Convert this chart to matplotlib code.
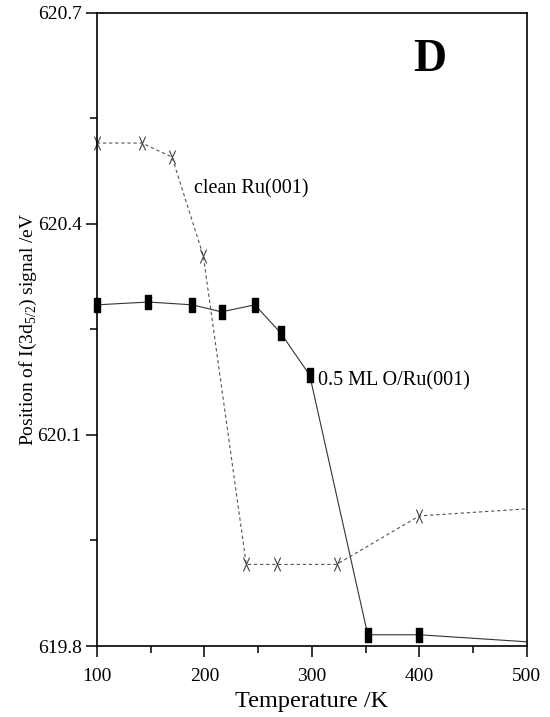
import matplotlib
matplotlib.use('Agg')
import matplotlib.pyplot as plt
from matplotlib.path import Path
from matplotlib.ticker import MultipleLocator

plt.rcParams['font.family'] = ['Liberation Serif', 'DejaVu Serif']
plt.rcParams['mathtext.fontset'] = 'custom'
plt.rcParams['mathtext.rm'] = 'Liberation Serif'

# clean Ru(001)
t_clean = [100, 142, 170, 199, 239, 268, 323, 400, 500]
e_clean = [620.515, 620.515, 620.495, 620.355, 619.916, 619.916, 619.916, 619.985, 619.995]

# 0.5 ML O/Ru(001)
t_oxy = [100, 148, 189, 216, 247, 271, 298, 352, 400, 500]
e_oxy = [620.285, 620.289, 620.285, 620.275, 620.285, 620.245, 620.185, 619.816, 619.816, 619.806]

rect = Path([(-0.5, -1), (0.5, -1), (0.5, 1), (-0.5, 1), (-0.5, -1)],
            [Path.MOVETO, Path.LINETO, Path.LINETO, Path.LINETO, Path.CLOSEPOLY])
cross = Path([(-0.45, -1), (0.45, 1), (0.45, -1), (-0.45, 1)],
             [Path.MOVETO, Path.LINETO, Path.MOVETO, Path.LINETO])

fig = plt.figure(figsize=(5.5, 7.17), dpi=100)
ax = fig.add_axes([0.176, 0.099, 0.782, 0.883])

ax.plot(t_clean, e_clean, color='#555555', lw=0.8, linestyle=(0, (3, 2.5)),
        marker=cross, markersize=10, markerfacecolor='none', markeredgecolor='#444444',
        markeredgewidth=0.8, markevery=list(range(len(t_clean) - 1)), clip_on=False)
ax.plot(t_oxy, e_oxy, color='#333333', lw=0.8, marker=rect, markersize=10,
        markerfacecolor='black', markeredgecolor='black',
        markevery=list(range(len(t_oxy) - 1)), clip_on=False)

ax.text(190, 620.45, 'clean Ru(001)', fontsize=14.5, va='center', ha='left')
ax.text(305.5, 620.177, '0.5 ML O/Ru(001)', fontsize=14.5, va='center', ha='left')
ax.text(410, 620.633, 'D', fontsize=33, fontweight='bold', va='center', ha='center')

ax.set_xlim(100, 500)
ax.set_ylim(619.8, 620.7)
ax.xaxis.set_major_locator(MultipleLocator(100))
ax.xaxis.set_minor_locator(MultipleLocator(50))
ax.yaxis.set_major_locator(MultipleLocator(0.3))
ax.yaxis.set_minor_locator(MultipleLocator(0.15))
ax.yaxis.set_major_formatter(plt.FuncFormatter(lambda v, p: '{:.1f}'.format(v)))
ax.tick_params(which='major', direction='out', length=8, width=1.1, labelsize=14)
ax.tick_params(which='minor', direction='out', length=5, width=1.1)
ax.tick_params(axis='x', pad=8)
ax.tick_params(axis='y', pad=3)
for s in ax.spines.values():
    s.set_linewidth(1.2)

ax.set_xlabel('Temperature /K', fontsize=17.5, labelpad=4)
ax.set_ylabel('Position of I(3d$_{5/2}$) signal /eV', fontsize=14, labelpad=-1)

fig.savefig('out.png', dpi=100)
